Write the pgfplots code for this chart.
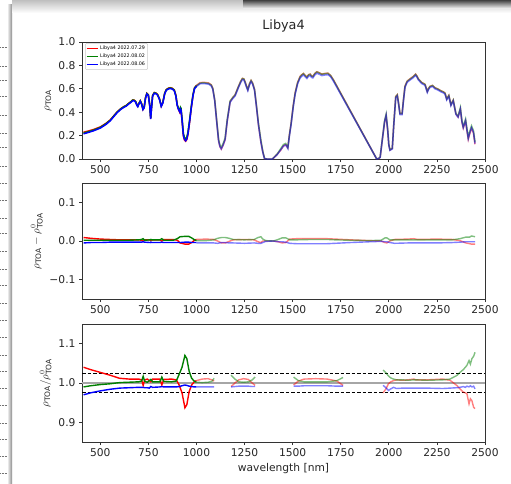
\documentclass[border=0pt]{standalone}
\usepackage{fontspec}
\setmainfont{DejaVu Sans}
\usepackage{pgfplots}
\usepackage{pgfplotstable}
\pgfplotsset{compat=1.18}

\definecolor{mplgreen}{RGB}{0,128,0}

% top panel: reflectance, VNIR part (opaque) and SWIR part (half transparent)
\pgfplotstableread{
wl r g b
413 0.229 0.222 0.215
440 0.240 0.234 0.228
465 0.252 0.247 0.241
500 0.274 0.270 0.264
530 0.305 0.302 0.296
552 0.334 0.332 0.327
570 0.369 0.367 0.362
587 0.401 0.400 0.395
605 0.428 0.427 0.422
621 0.446 0.445 0.440
635 0.458 0.457 0.452
647 0.475 0.474 0.469
660 0.491 0.490 0.485
669 0.505 0.504 0.499
676 0.503 0.502 0.497
684 0.491 0.490 0.485
690 0.465 0.464 0.459
695 0.453 0.452 0.447
700 0.473 0.472 0.467
708 0.498 0.497 0.492
715 0.473 0.472 0.467
722 0.425 0.428 0.422
728 0.443 0.442 0.437
735 0.523 0.522 0.517
742 0.561 0.560 0.555
750 0.548 0.547 0.542
757 0.463 0.462 0.457
762 0.346 0.348 0.342
766 0.433 0.432 0.427
772 0.543 0.542 0.537
781 0.568 0.567 0.562
790 0.563 0.562 0.557
798 0.551 0.550 0.545
808 0.513 0.512 0.507
817 0.452 0.455 0.449
825 0.483 0.482 0.477
835 0.563 0.562 0.557
843 0.593 0.592 0.587
855 0.606 0.604 0.599
864 0.609 0.607 0.602
875 0.604 0.602 0.597
885 0.589 0.587 0.582
893 0.544 0.542 0.537
900 0.462 0.464 0.457
907 0.423 0.432 0.422
913 0.400 0.415 0.402
917 0.424 0.441 0.427
920 0.414 0.432 0.417
926 0.313 0.332 0.317
932 0.197 0.217 0.202
938 0.162 0.182 0.167
944 0.152 0.172 0.157
950 0.167 0.187 0.172
956 0.212 0.232 0.217
965 0.323 0.342 0.327
973 0.436 0.448 0.436
982 0.545 0.550 0.541
990 0.607 0.608 0.601
1000 0.629 0.626 0.620
}\toavnir

\pgfplotstableread{
wl r g b
1000 0.629 0.626 0.620
1019 0.653 0.649 0.643
1040 0.655 0.651 0.645
1063 0.650 0.646 0.640
1077 0.634 0.632 0.625
1085 0.604 0.603 0.595
1095 0.502 0.505 0.495
1106 0.310 0.317 0.304
1115 0.157 0.168 0.155
1122 0.106 0.119 0.106
1129 0.085 0.099 0.086
1138 0.115 0.129 0.116
1149 0.165 0.179 0.166
1160 0.326 0.338 0.325
1175 0.490 0.496 0.485
1188 0.523 0.524 0.515
1201 0.549 0.548 0.539
1218 0.619 0.618 0.609
1230 0.664 0.663 0.654
1239 0.689 0.688 0.679
1246 0.686 0.685 0.676
1253 0.659 0.658 0.649
1260 0.624 0.623 0.614
1267 0.594 0.593 0.584
1276 0.644 0.643 0.634
1284 0.672 0.671 0.662
1292 0.649 0.648 0.639
1302 0.593 0.594 0.585
1312 0.450 0.456 0.444
1322 0.297 0.308 0.294
1335 0.146 0.161 0.144
1345 0.060 0.065 0.056
1354 0.003 0.004 0.002
1365 0.000 0.000 0.000
1395 0.000 0.000 0.000
1420 0.041 0.043 0.038
1440 0.080 0.093 0.083
1452 0.112 0.123 0.110
1464 0.123 0.133 0.120
1470 0.108 0.118 0.105
1475 0.096 0.100 0.090
1483 0.205 0.203 0.194
1492 0.305 0.303 0.294
1503 0.456 0.453 0.443
1513 0.566 0.563 0.553
1526 0.656 0.653 0.643
1539 0.706 0.703 0.693
1548 0.721 0.719 0.708
1556 0.731 0.729 0.718
1565 0.716 0.714 0.703
1574 0.701 0.699 0.688
1583 0.721 0.719 0.708
1591 0.726 0.724 0.713
1598 0.711 0.709 0.698
1605 0.706 0.704 0.693
1615 0.731 0.729 0.718
1626 0.746 0.744 0.733
1640 0.736 0.734 0.723
1652 0.726 0.724 0.713
1668 0.731 0.729 0.718
1683 0.734 0.732 0.721
1697 0.715 0.714 0.704
1712 0.677 0.675 0.666
1937 0.000 0.000 0.000
1948 0.005 0.006 0.004
1955 0.015 0.017 0.014
1965 0.149 0.153 0.149
1978 0.316 0.328 0.318
1986 0.370 0.383 0.373
1994 0.246 0.257 0.248
2000 0.119 0.124 0.118
2006 0.077 0.079 0.074
2018 0.091 0.092 0.086
2026 0.303 0.303 0.295
2036 0.534 0.533 0.524
2044 0.549 0.548 0.539
2051 0.474 0.473 0.465
2058 0.388 0.387 0.379
2069 0.388 0.387 0.379
2076 0.504 0.503 0.495
2084 0.622 0.620 0.612
2095 0.665 0.663 0.655
2110 0.685 0.683 0.675
2127 0.706 0.703 0.695
2139 0.726 0.723 0.715
2146 0.710 0.708 0.700
2154 0.684 0.683 0.675
2171 0.654 0.653 0.645
2188 0.639 0.638 0.630
2195 0.604 0.603 0.595
2200 0.578 0.577 0.569
2207 0.604 0.603 0.595
2214 0.621 0.620 0.612
2227 0.629 0.628 0.620
2240 0.609 0.608 0.600
2255 0.599 0.598 0.590
2270 0.584 0.583 0.575
2284 0.574 0.573 0.565
2292 0.564 0.563 0.555
2301 0.514 0.513 0.505
2312 0.544 0.543 0.535
2323 0.464 0.463 0.456
2335 0.503 0.503 0.496
2342 0.442 0.444 0.436
2349 0.385 0.388 0.381
2360 0.359 0.366 0.357
2372 0.427 0.439 0.427
2380 0.316 0.328 0.318
2387 0.265 0.278 0.268
2399 0.323 0.341 0.328
2406 0.243 0.261 0.248
2413 0.169 0.186 0.174
2420 0.212 0.232 0.218
2430 0.262 0.283 0.268
2440 0.222 0.242 0.228
2448 0.126 0.145 0.132
}\toaswir

% middle panel: difference to the mean
\pgfplotstableread{
wl r g b
413 0.009 0.002 -0.005
450 0.007 0.002 -0.004
500 0.005 0.002 -0.004
550 0.004 0.002 -0.003
600 0.003 0.002 -0.003
650 0.003 0.002 -0.003
700 0.003 0.003 -0.003
715 0.002 0.004 -0.003
723 -0.001 0.006 -0.002
731 0.003 0.002 -0.003
760 0.003 0.003 -0.004
763 0.001 0.004 -0.003
770 0.003 0.003 -0.004
810 0.003 0.003 -0.004
820 0.000 0.006 -0.003
830 0.004 0.002 -0.004
880 0.004 0.002 -0.004
900 0.002 0.006 -0.004
915 -0.005 0.011 -0.004
940 -0.008 0.012 -0.003
960 -0.008 0.012 -0.003
975 -0.004 0.008 -0.004
990 0.002 0.003 -0.004
1000 0.004 0.001 -0.004
}\difvnir

\pgfplotstableread{
wl r g b
1000 0.004 0.001 -0.005
1050 0.005 0.001 -0.005
1090 0.004 0.003 -0.005
1110 0.000 0.007 -0.006
1130 -0.005 0.009 -0.004
1150 -0.005 0.009 -0.004
1170 -0.001 0.007 -0.005
1190 0.003 0.004 -0.005
1250 0.004 0.003 -0.006
1300 0.003 0.004 -0.005
1320 -0.002 0.009 -0.006
1335 -0.004 0.011 -0.006
1345 0.000 0.005 -0.004
1360 0.000 0.001 -0.001
1400 0.000 0.000 0.000
1425 -0.002 0.004 -0.002
1445 -0.005 0.008 -0.002
1465 -0.004 0.008 -0.003
1485 0.005 0.003 -0.006
1520 0.006 0.003 -0.007
1600 0.006 0.004 -0.007
1680 0.006 0.004 -0.007
1720 0.005 0.003 -0.006
1800 0.003 0.002 -0.004
1900 0.001 0.001 -0.002
1960 0.000 0.002 -0.001
1980 -0.004 0.008 -0.002
1990 -0.005 0.008 -0.002
2005 0.000 0.003 -0.004
2030 0.004 0.003 -0.006
2100 0.005 0.003 -0.005
2130 0.006 0.003 -0.005
2150 0.004 0.003 -0.005
2250 0.005 0.003 -0.005
2330 0.004 0.003 -0.004
2370 0.001 0.006 -0.003
2400 -0.005 0.010 -0.002
2420 -0.007 0.010 -0.002
2430 -0.008 0.013 -0.002
2448 -0.008 0.011 -0.002
}\difswir

% bottom panel: ratio to the mean
\pgfplotstableread{
wl r g b
413 1.040 0.990 0.970
450 1.034 0.993 0.975
500 1.027 0.996 0.980
550 1.020 0.998 0.984
600 1.012 1.001 0.987
650 1.010 1.002 0.988
700 1.010 1.003 0.989
715 1.008 1.005 0.989
723 0.994 1.017 0.989
731 1.008 1.004 0.988
745 1.010 1.002 0.988
755 1.006 1.006 0.987
763 1.003 1.009 0.991
772 1.010 1.003 0.989
810 1.010 1.003 0.990
820 0.995 1.015 0.991
830 1.009 1.004 0.990
870 1.010 1.003 0.990
895 1.008 1.005 0.990
910 0.995 1.022 0.991
925 0.975 1.040 0.993
940 0.937 1.070 0.995
950 0.945 1.062 0.994
962 0.978 1.030 0.992
975 0.995 1.012 0.991
990 1.004 1.004 0.990
1000 1.006 1.002 0.990
}\ratvnir

\pgfplotstableread{
wl r g b
1000 1.006 1.002 0.990
1030 1.010 1.001 0.990
1060 1.011 1.002 0.990
1080 1.008 1.004 0.990
1092 1.005 1.012 0.990
1135 nan nan nan
1180 0.991 1.020 0.990
1200 1.000 1.010 0.991
1220 1.008 1.003 0.992
1245 1.011 1.002 0.992
1270 1.009 1.003 0.992
1290 1.000 1.008 0.991
1305 0.994 1.015 0.991
1400 nan nan nan
1505 0.995 1.015 0.992
1530 1.005 1.006 0.992
1560 1.010 1.003 0.993
1620 1.011 1.003 0.993
1680 1.010 1.003 0.993
1730 1.005 1.006 0.992
1762 0.994 1.014 0.992
1850 nan nan nan
1970 0.975 1.033 0.994
1985 0.985 1.026 0.988
1998 0.998 1.018 0.981
2010 1.003 1.013 0.985
2024 1.006 1.010 0.989
2040 1.008 1.008 0.986
2070 1.007 1.008 0.987
2100 1.008 1.007 0.987
2130 1.010 1.008 0.987
2140 1.008 1.008 0.987
2200 1.008 1.007 0.987
2280 1.010 1.008 0.986
2318 1.007 1.010 0.987
2353 0.994 1.019 0.988
2370 0.985 1.027 0.989
2387 0.977 1.034 0.991
2398 0.975 1.040 0.989
2406 0.973 1.045 0.992
2417 0.947 1.057 0.990
2424 0.960 1.048 0.993
2432 0.955 1.062 0.990
2441 0.938 1.068 0.992
2448 0.935 1.078 0.985
}\ratswir

\pgfplotsset{
  panel/.style={
    scale only axis, width=403pt, xmin=405, xmax=2500,
    xtick={500,750,...,2500}, tick pos=left, tick align=outside,
    major tick length=3pt,
    axis line style={black!80, line width=0.7pt},
    tick style={black!80, line width=0.7pt},
    ticklabel style={font=\fontsize{10.7}{12}\selectfont, text=black!85},
    label style={font=\fontsize{10.7}{12}\selectfont, text=black!85},
    /pgf/number format/assume math mode=true,
    /pgf/number format/1000 sep={},
    unbounded coords=jump,
  },
  vn/.style={line width=#1},
  sw/.style={line width=#1, opacity=0.5, forget plot},
}

\begin{document}
\begin{tikzpicture}
\useasboundingbox (0,0) rectangle (511pt,483pt);
\fill[white] (0,0) rectangle (511pt,483pt);
% window frame of the screenshot
\foreach \y in {436,417,403,387,368,350,336,317,300,283,265,250,232,214,198,180,163,146,128,112,95,78,60,44,27,10}
  \draw[black!55, densely dotted, line width=0.5pt] (0,\y pt) -- (8pt,\y pt);
\shade[left color=white, right color=black!45] (7pt,0) rectangle (12pt,478pt);
\shade[top color=black!25, bottom color=white] (12pt,470pt) rectangle (511pt,483pt);
\shade[top color=black!75, bottom color=white] (243pt,474pt) rectangle (511pt,483pt);

% top panel
\begin{axis}[panel, at={(82pt,324pt)}, anchor=south west, height=117pt,
  ymin=0, ymax=1, ytick={0,0.2,0.4,0.6,0.8,1.0},
  yticklabels={0.0,0.2,0.4,0.6,0.8,1.0},
  ylabel={$\rho_{\mathrm{TOA}}$},
  title={Libya4}, title style={font=\fontsize{12.8}{14}\selectfont, text=black!85},
  legend style={at={(0.008,0.99)}, anchor=north west,
    font=\fontsize{4.8}{5.4}\selectfont, draw=black!20, rounded corners=1pt,
    inner sep=0.6pt, row sep=-1.2pt, cells={anchor=west}},
  legend image code/.code={\draw[#1, line width=1.1pt] (0pt,0pt) -- (11pt,0pt);}]
\addplot[vn=1.5pt, red] table[x=wl, y=r] {\toavnir};
\addlegendentry{Libya4 2022.07.29}
\addplot[vn=1.5pt, mplgreen] table[x=wl, y=g] {\toavnir};
\addlegendentry{Libya4 2022.08.02}
\addplot[vn=1.5pt, blue] table[x=wl, y=b] {\toavnir};
\addlegendentry{Libya4 2022.08.06}
\addplot[sw=1.5pt, red] table[x=wl, y=r] {\toaswir};
\addplot[sw=1.5pt, mplgreen] table[x=wl, y=g] {\toaswir};
\addplot[sw=1.5pt, blue] table[x=wl, y=b] {\toaswir};
\end{axis}

% middle panel
\begin{axis}[panel, at={(82pt,184pt)}, anchor=south west, height=116pt,
  ymin=-0.15, ymax=0.15, ytick={-0.1,0,0.1},
  yticklabels={−0.1,0.0,0.1},
  ylabel={$\rho_{\mathrm{TOA}}-\rho^{0}_{\mathrm{TOA}}$}]
\addplot[vn=1.4pt, red] table[x=wl, y=r] {\difvnir};
\addplot[vn=1.4pt, mplgreen] table[x=wl, y=g] {\difvnir};
\addplot[vn=1.4pt, blue] table[x=wl, y=b] {\difvnir};
\addplot[sw=1.4pt, red] table[x=wl, y=r] {\difswir};
\addplot[sw=1.4pt, mplgreen] table[x=wl, y=g] {\difswir};
\addplot[sw=1.4pt, blue] table[x=wl, y=b] {\difswir};
\end{axis}

% bottom panel
\begin{axis}[panel, at={(82pt,41pt)}, anchor=south west, height=118pt,
  ymin=0.85, ymax=1.15, ytick={0.9,1.0,1.1},
  yticklabels={0.9,1.0,1.1},
  ylabel={$\rho_{\mathrm{TOA}}/\rho^{0}_{\mathrm{TOA}}$},
  xlabel={wavelength [nm]}]
\addplot[black!35, line width=1.4pt] coordinates {(405,1.0) (2500,1.0)};
\addplot[black, line width=0.8pt, dash pattern=on 3.5pt off 2pt] coordinates {(405,1.025) (2500,1.025)};
\addplot[black, line width=0.8pt, dash pattern=on 3.5pt off 2pt] coordinates {(405,0.975) (2500,0.975)};
\addplot[vn=1.4pt, red] table[x=wl, y=r] {\ratvnir};
\addplot[vn=1.4pt, mplgreen] table[x=wl, y=g] {\ratvnir};
\addplot[vn=1.4pt, blue] table[x=wl, y=b] {\ratvnir};
\addplot[sw=1.4pt, red] table[x=wl, y=r] {\ratswir};
\addplot[sw=1.4pt, mplgreen] table[x=wl, y=g] {\ratswir};
\addplot[sw=1.4pt, blue] table[x=wl, y=b] {\ratswir};
\end{axis}
\end{tikzpicture}
\end{document}
